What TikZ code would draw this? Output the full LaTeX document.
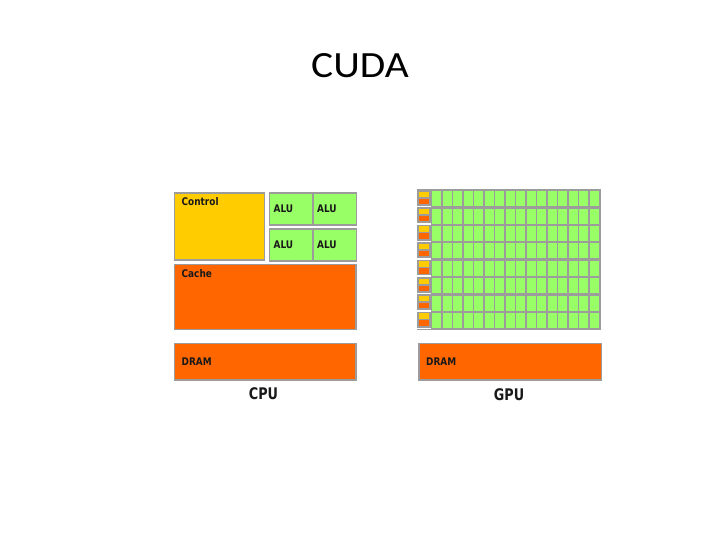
\documentclass[tikz,border=0pt]{standalone}
\usepackage{fontspec}
\setmainfont{Carlito}
\newfontfamily\lblfont{DejaVu Sans}
\definecolor{ctrlyellow}{HTML}{FFCC00}
\definecolor{cacheorange}{HTML}{FF6600}
\definecolor{alugreen}{HTML}{99FF66}
\definecolor{edgegray}{HTML}{9C9C9C}
\begin{document}
\begin{tikzpicture}[x=1pt,y=-1pt,
  blk/.style={draw=edgegray, line width=1.6pt, anchor=north west, inner sep=0pt},
  lbl/.style={anchor=north west, inner sep=0pt, font=\lblfont\bfseries\fontsize{10.5}{12}\selectfont, xscale=0.85, text=black!90},
  captxt/.style={inner sep=0pt, anchor=base, font=\lblfont\bfseries\fontsize{16}{18}\selectfont, xscale=0.8, text=black!90}]
\useasboundingbox (0,0) rectangle (720,540);
\node[anchor=base, inner sep=0pt, font=\fontsize{37}{44}\selectfont, xscale=1.12] (title) at (360,78) {CUDA};

% CPU
\node[blk, fill=ctrlyellow, minimum width=90pt, minimum height=67pt] (ctrl) at (173.5,192) {};
\node[lbl] (ctrlt) at ([shift={(8,5)}]ctrl.north west) {Control};
\foreach \r/\y in {1/192,2/228}{
  \foreach \c/\x in {1/268.5,2/312}{
    \node[blk, fill=alugreen, minimum width=43.5pt, minimum height=32pt] (alu\r\c) at (\x,\y) {};
    \node[lbl, anchor=west] (alut\r\c) at ([xshift=5pt]alu\r\c.west) {ALU};
  }
}
\node[blk, fill=cacheorange, minimum width=181.5pt, minimum height=65pt] (cache) at (173.5,263.5) {};
\node[lbl] (cachet) at ([shift={(8,6)}]cache.north west) {Cache};
\node[blk, fill=cacheorange, minimum width=181.5pt, minimum height=36.5pt] (cdram) at (173.5,342.5) {};
\node[lbl, anchor=west] (cdramt) at ([xshift=8pt]cdram.west) {DRAM};
\node[captxt] (cpu) at (263.5,399) {CPU};

% GPU grid
\fill[edgegray] (417,189.5) rectangle (601,329.5);
\foreach \r in {0,...,7}{
  \pgfmathsetmacro\ty{190+17.4*\r}
  \fill[white] (417,\ty+15.8) rectangle (431,\ty+17.4);
  \fill[ctrlyellow] (419,\ty+1.6) rectangle (429,\ty+7);
  \fill[cacheorange] (419,\ty+8.6) rectangle (429,\ty+14);
  \foreach \c in {0,...,15}{
    \pgfmathsetmacro\tx{432+10.5*\c}
    \fill[alugreen] (\tx,\ty+1.2) rectangle (\tx+9.4,\ty+16.2);
  }
}
\node[blk, fill=cacheorange, minimum width=182.5pt, minimum height=36.5pt] (gdram) at (418,342.5) {};
\node[lbl, anchor=west] (gdramt) at ([xshift=8pt]gdram.west) {DRAM};
\node[captxt] (gpu) at (509,400) {GPU};
\end{tikzpicture}
\end{document}
